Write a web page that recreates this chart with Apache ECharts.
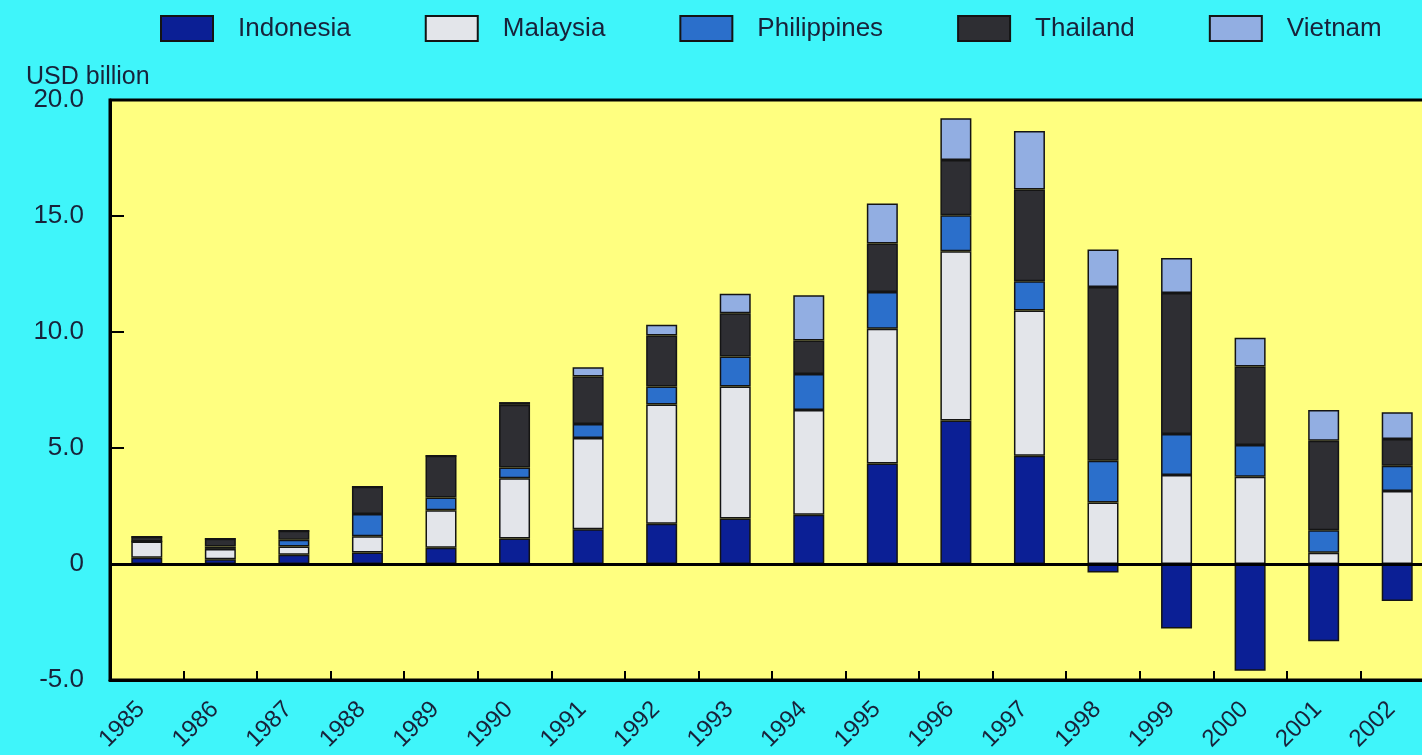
<!DOCTYPE html>
<html>
<head>
<meta charset="utf-8">
<script src="https://cdn.jsdelivr.net/npm/echarts@6/dist/echarts.min.js"></script>
<style>html,body{margin:0;padding:0;background:#3ff5fa;}#chart{width:1422px;height:755px;}</style>
</head>
<body>
<div id="chart"></div>
<script>
const years = ['1985','1986','1987','1988','1989','1990','1991','1992','1993','1994','1995','1996','1997','1998','1999','2000','2001','2002'];
const indonesia   = [0.27, 0.20, 0.40, 0.50, 0.70, 1.10, 1.50, 1.74, 1.96, 2.12, 4.33, 6.18, 4.67, -0.37, -2.78, -4.60, -3.33, -1.60];
const malaysia    = [0.70, 0.45, 0.35, 0.70, 1.62, 2.60, 3.93, 5.13, 5.69, 4.52, 5.81, 7.30, 6.26, 2.65, 3.84, 3.76, 0.49, 3.15];
const philippines = [0.00, 0.10, 0.30, 0.95, 0.55, 0.46, 0.60, 0.78, 1.29, 1.55, 1.58, 1.55, 1.26, 1.80, 1.76, 1.37, 0.97, 1.08];
const thailand    = [0.20, 0.34, 0.38, 1.18, 1.80, 2.70, 2.05, 2.20, 1.87, 1.44, 2.09, 2.38, 3.95, 7.49, 6.08, 3.38, 3.85, 1.16];
const vietnam     = [0.00, 0.00, 0.00, 0.00, 0.00, 0.12, 0.40, 0.46, 0.84, 1.95, 1.73, 1.80, 2.52, 1.62, 1.51, 1.24, 1.33, 1.15];
const yTicks = [-5, 0, 5, 10, 15, 20];

const FONT = "'Liberation Sans', Arial, sans-serif";
const TXT = '#18223a';
const names = ['Indonesia','Malaysia','Philippines','Thailand','Vietnam'];
const colors = ['#0b1f95','#e3e5ea','#2b6fcb','#2e2e33','#92aee2'];
const datas = [indonesia, malaysia, philippines, thailand, vietnam];

const chart = echarts.init(document.getElementById('chart'));
const series = names.map((n, i) => {
  const s = {
    name: n, type: 'bar', stack: 'total', data: datas[i], barWidth: 31,
    itemStyle: { color: colors[i], borderColor: '#141414', borderWidth: 1.5 },
    emphasis: { disabled: true }
  };
  if (i === 0) {
    s.markLine = {
      silent: true, symbol: 'none', label: { show: false },
      lineStyle: { color: '#000', width: 3, type: 'solid' },
      data: [{ yAxis: 0 }]
    };
  }
  return s;
});

chart.setOption({
  backgroundColor: '#3ff5fa',
  animation: false,
  title: {
    text: 'USD billion', left: 21, top: 60,
    textStyle: { fontFamily: FONT, fontSize: 25, fontWeight: 'normal', color: TXT }
  },
  legend: {
    left: 155, top: 10,
    icon: 'rect',
    itemWidth: 52, itemHeight: 25, itemGap: 74,
    textStyle: { fontFamily: FONT, fontSize: 26, color: TXT, padding: [0, 0, 0, 20] },
    data: names
  },
  grid: {
    left: 110, right: -12, top: 100, bottom: 75,
    outerBoundsMode: 'none',
    show: true, backgroundColor: '#ffff80', borderColor: '#000', borderWidth: 3
  },
  xAxis: {
    type: 'category', data: years,
    axisLine: { onZero: false, lineStyle: { color: '#000', width: 3 } },
    axisTick: { show: true, inside: true, length: 9, lineStyle: { color: '#000', width: 2 } },
    axisLabel: { rotate: 45, margin: 20, padding: [0, 8, 0, 0], fontFamily: FONT, fontSize: 24, color: TXT }
  },
  yAxis: {
    type: 'value', min: yTicks[0], max: yTicks[yTicks.length - 1], interval: 5,
    axisLine: { show: true, lineStyle: { color: '#000', width: 3 } },
    axisTick: { show: true, inside: true, length: 14, lineStyle: { color: '#000', width: 2 } },
    splitLine: { show: false },
    axisLabel: {
      margin: 26, fontFamily: FONT, fontSize: 26, color: TXT,
      formatter: v => v === 0 ? '0' : v.toFixed(1)
    }
  },
  series: series
});
</script>
</body>
</html>
